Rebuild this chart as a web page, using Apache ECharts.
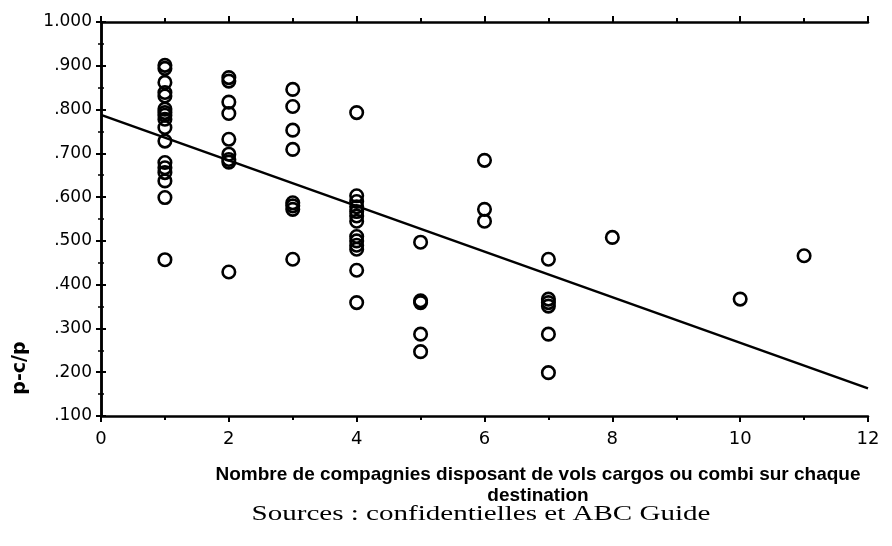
<!DOCTYPE html>
<html>
<head>
<meta charset="utf-8">
<script src="https://cdn.jsdelivr.net/npm/echarts@6/dist/echarts.min.js"></script>
<style>html,body{margin:0;padding:0;background:#fff}#c{width:892px;height:546px}</style>
</head>
<body>
<div id="c"></div>
<script>
// Data
const xValues = [
  1,1,1,1,1,1,1,1,1,1,1,1,1,1,1,1,1,
  2,2,2,2,2,2,2,2,2,
  3,3,3,3,3,3,3,3,
  4,4,4,4,4,4,4,4,4,4,4,4,4,
  5,5,5,5,5,
  6,6,6,
  7,7,7,7,7,7,
  8,10,11
];
const yValues = [
  0.901,0.894,0.862,0.839,0.831,0.801,0.793,0.787,0.778,0.759,0.728,0.679,0.667,0.656,0.637,0.599,0.457,
  0.873,0.865,0.817,0.791,0.732,0.698,0.686,0.680,0.429,
  0.846,0.807,0.753,0.709,0.587,0.580,0.572,0.458,
  0.793,0.603,0.590,0.578,0.567,0.557,0.545,0.510,0.500,0.490,0.481,0.433,0.359,
  0.497,0.363,0.359,0.287,0.247,
  0.684,0.572,0.545,
  0.458,0.367,0.359,0.351,0.287,0.199,
  0.508,0.367,0.466
];
const fitX = [0, 12];
const fitY = [0.788, 0.163];
const yTickValues = [0.1,0.2,0.3,0.4,0.5,0.6,0.7,0.8,0.9,1.0];
const yTickLabels = ['.100','.200','.300','.400','.500','.600','.700','.800','.900','1.000'];
const xTickLabels = ['0','2','4','6','8','10','12'];
const xTitle = ['Nombre de compagnies disposant de vols cargos ou combi sur chaque', 'destination'];
const yTitle = 'p-c/p';
const sourceText = 'Sources : confidentielles et ABC Guide';

const points = xValues.map((x, i) => [x, yValues[i]]);
const fitLine = fitX.map((x, i) => [x, fitY[i]]);

const chart = echarts.init(document.getElementById('c'));
const axisLine = {show: true, lineStyle: {color: '#000', width: 2.5}};
const labelFont = {color: '#000', fontFamily: '"DejaVu Sans", sans-serif', fontSize: 17};

chart.setOption({
  animation: false,
  backgroundColor: '#fff',
  grid: {left: 101, right: 24, top: 22, bottom: 130, containLabel: false},
  xAxis: [
    {
      type: 'value', min: 0, max: 12, interval: 2, position: 'bottom',
      axisLine: axisLine,
      axisTick: {show: true, length: 6, lineStyle: {color: '#000', width: 2}},
      minorTick: {show: true, splitNumber: 2, length: 4, lineStyle: {color: '#000', width: 2}},
      splitLine: {show: false},
      axisLabel: Object.assign({margin: 14, formatter: v => xTickLabels[Math.round(v / 2)]}, labelFont, {fontSize: 18})
    },
    {
      type: 'value', min: 0, max: 12, interval: 2, position: 'top',
      axisLine: axisLine,
      axisTick: {show: true, length: 6, lineStyle: {color: '#000', width: 2}},
      minorTick: {show: true, splitNumber: 2, length: 4, lineStyle: {color: '#000', width: 2}},
      splitLine: {show: false},
      axisLabel: {show: false}
    }
  ],
  yAxis: [
    {
      type: 'value', min: 0.1, max: 1.0, interval: 0.1, position: 'left',
      axisLine: axisLine,
      axisTick: {show: true, length: 5, lineStyle: {color: '#000', width: 2}},
      minorTick: {show: true, splitNumber: 2, length: 3, lineStyle: {color: '#000', width: 1.5}},
      splitLine: {show: false},
      axisLabel: Object.assign({margin: 9, formatter: v => {
        const i = yTickValues.findIndex(t => Math.abs(t - v) < 1e-6);
        return i >= 0 ? yTickLabels[i] : '';
      }}, labelFont)
    },
    {
      type: 'value', min: 0.1, max: 1.0, interval: 0.1, position: 'right',
      axisLine: axisLine,
      axisTick: {show: true, length: 5, lineStyle: {color: '#000', width: 2}},
      minorTick: {show: true, splitNumber: 2, length: 3, lineStyle: {color: '#000', width: 1.5}},
      splitLine: {show: false},
      axisLabel: {show: false}
    }
  ],
  series: [
    {
      type: 'line', data: fitLine, xAxisIndex: 0, yAxisIndex: 0,
      symbol: 'none', lineStyle: {color: '#000', width: 2.5}, z: 2
    },
    {
      type: 'scatter', data: points, xAxisIndex: 0, yAxisIndex: 0,
      symbol: 'circle', symbolSize: 12.5,
      itemStyle: {color: 'rgba(0,0,0,0)', borderColor: '#000', borderWidth: 2.6, opacity: 1},
      z: 3
    }
  ],
  graphic: [
    {
      type: 'text',
      style: {
        text: xTitle[0], x: 538, y: 475, align: 'center', verticalAlign: 'middle',
        font: 'bold 19px "Liberation Sans", Arial, sans-serif', fill: '#000'
      }
    },
    {
      type: 'text',
      style: {
        text: xTitle[1], x: 538, y: 496, align: 'center', verticalAlign: 'middle',
        font: 'bold 19px "Liberation Sans", Arial, sans-serif', fill: '#000'
      }
    },
    {
      type: 'text', rotation: Math.PI / 2, x: 20, y: 368,
      style: {
        text: yTitle, x: 0, y: 0, align: 'center', verticalAlign: 'middle',
        font: 'bold 19px "DejaVu Sans", sans-serif', fill: '#000'
      }
    },
    {
      type: 'text', x: 481, y: 514, scaleX: 1.32,
      style: {
        text: sourceText, x: 0, y: 0, align: 'center', verticalAlign: 'middle',
        font: '22px "Liberation Serif", "Times New Roman", serif', fill: '#000'
      }
    }
  ]
});
</script>
</body>
</html>
